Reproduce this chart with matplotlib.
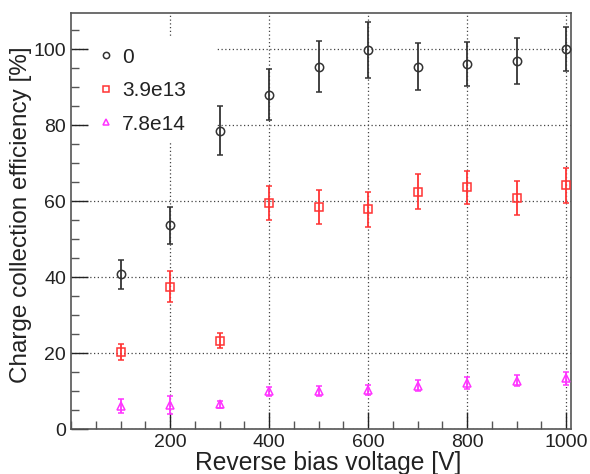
import matplotlib.pyplot as plt
from matplotlib.lines import Line2D
from matplotlib.patches import Rectangle
from matplotlib.ticker import MultipleLocator

plt.rcParams['font.family'] = ['Liberation Sans', 'DejaVu Sans']

voltage = [100, 200, 300, 400, 500, 600, 700, 800, 900, 1000]

# fluence 0
cce_0 = [40.7, 53.6, 78.5, 88.0, 95.4, 99.8, 95.4, 96.1, 96.9, 100.0]
err_0 = [3.9, 4.9, 6.5, 6.7, 6.8, 7.3, 6.1, 5.7, 6.0, 5.7]
# fluence 3.9e13
cce_1 = [20.3, 37.5, 23.2, 59.5, 58.4, 57.8, 62.5, 63.6, 60.9, 64.1]
err_1 = [2.2, 4.0, 2.0, 4.5, 4.4, 4.6, 4.5, 4.4, 4.5, 4.5]
# fluence 7.8e14
cce_2 = [6.0, 6.3, 6.5, 9.9, 10.1, 10.2, 11.4, 12.1, 12.7, 13.3]
err_2 = [1.9, 2.3, 0.9, 1.1, 1.3, 1.3, 1.5, 1.6, 1.5, 1.6]

labels = ['0', '3.9e13', '7.8e14']

fig = plt.figure(figsize=(5.9, 4.74), dpi=100)
ax = fig.add_axes([71 / 590, 45 / 474, 500 / 590, 416 / 474])

series = [(cce_0, err_0, 'o', '#333333'),
          (cce_1, err_1, 's', '#ff3333'),
          (cce_2, err_2, '^', '#ff33ff')]
handles = []
for (y, e, m, c), lab in zip(series, labels):
    ax.errorbar(voltage, y, yerr=e, fmt=m, ms=6, mfc='none', mec=c, mew=1.1,
                ecolor=c, elinewidth=1.3, capsize=2, capthick=1.2, zorder=3)
    handles.append(Line2D([], [], ls='none', marker=m, ms=4.5, mfc='none',
                          mec=c, mew=1.1, label=lab))

ax.set_xlim(0, 1010)
ax.set_ylim(0, 109.5)
ax.xaxis.set_major_locator(MultipleLocator(200))
ax.xaxis.set_minor_locator(MultipleLocator(50))
ax.yaxis.set_major_locator(MultipleLocator(20))
ax.yaxis.set_minor_locator(MultipleLocator(5))
ax.tick_params(which='major', direction='in', length=12, width=1, labelsize=14,
               top=False, right=False, colors='#222222')
ax.tick_params(which='minor', direction='in', length=6, width=1,
               top=False, right=False, colors='#555555')
ax.set_xticks([200, 400, 600, 800, 1000])
ax.grid(True, which='major', linestyle=(0, (1, 2)), color='#444444', linewidth=0.9)
ax.set_axisbelow(True)
for s in ax.spines.values():
    s.set_color('#555555')
    s.set_linewidth(1.2)

ax.set_xlabel('Reverse bias voltage [V]', fontsize=17.7, labelpad=0, color='#222222')
ax.xaxis.label.set_x(0.514)
ax.set_ylabel('Charge collection efficiency [%]', fontsize=17.5, labelpad=1,
              color='#222222')
ax.yaxis.label.set_y(0.514)

# white legend box over the grid
ax.add_patch(Rectangle((0.038, 0.690), 0.254, 0.252, transform=ax.transAxes,
                       facecolor='white', edgecolor='none', zorder=1.5))
leg = ax.legend(handles=handles, loc='upper left', bbox_to_anchor=(0.038, 0.942),
                borderaxespad=0, fontsize=15, frameon=False,
                handlelength=0.5, handletextpad=0.55,
                labelspacing=0.7, borderpad=0.5)
for t in leg.get_texts():
    t.set_color('#222222')

fig.savefig('out.png', dpi=100)
